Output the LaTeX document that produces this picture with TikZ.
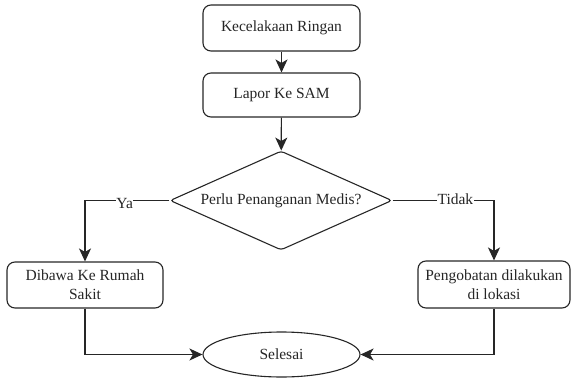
\documentclass[tikz,border=0pt]{standalone}
\usepackage{fontspec}
\setmainfont{Liberation Serif}
\usetikzlibrary{shapes.geometric,arrows.meta}
\begin{document}
\begin{tikzpicture}[x=1pt,y=-1pt,
  every node/.style={font=\fontsize{15.5}{19}\selectfont, text=black!85},
  procbox/.style={draw=black!85, line width=1.1pt, rounded corners=8pt, align=center, inner sep=0pt},
  decision/.style={draw=black!85, line width=1.1pt, diamond, aspect=2.24, rounded corners=3pt, inner sep=0pt, minimum width=222pt, minimum height=99pt},
  terminal/.style={draw=black!85, line width=1.1pt, ellipse, inner sep=0pt, minimum width=157pt, minimum height=45pt},
  conn/.style={draw=black!85, line width=1.2pt, -{Stealth[length=13pt,width=12pt,inset=3.5pt]}},
  lbl/.style={fill=white, inner sep=0.5pt}
]
\useasboundingbox (0,0) rectangle (571,378);
\node[procbox, minimum width=157pt, minimum height=46pt] (a) at (281.5,28) {Kecelakaan Ringan};
\node[procbox, minimum width=157pt, minimum height=44pt] (b) at (281.5,95) {Lapor Ke SAM};
\node[decision] (c) at (281,200.5) {Perlu Penanganan Medis?};
\node[procbox, minimum width=156pt, minimum height=46pt] (d) at (85,285) {Dibawa Ke Rumah\\Sakit};
\node[procbox, minimum width=152pt, minimum height=47pt] (e) at (494,284.5) {Pengobatan dilakukan\\di lokasi};
\node[terminal] (f) at (281.5,354.5) {Selesai};

\draw[conn] (a) -- (b);
\draw[conn] (b) -- (c);
\draw[conn] (c.west) -- ++(-5,0) -| node[lbl, pos=0.25, yshift=-3pt] {Ya} (d.north);
\draw[conn] (c.east) -- ++(5,0) -| node[lbl, pos=0.3, yshift=1pt] {Tidak} (e.north);
\draw[conn] (d.south) |- (f.west);
\draw[conn] (e.south) |- (f.east);
\end{tikzpicture}
\end{document}
